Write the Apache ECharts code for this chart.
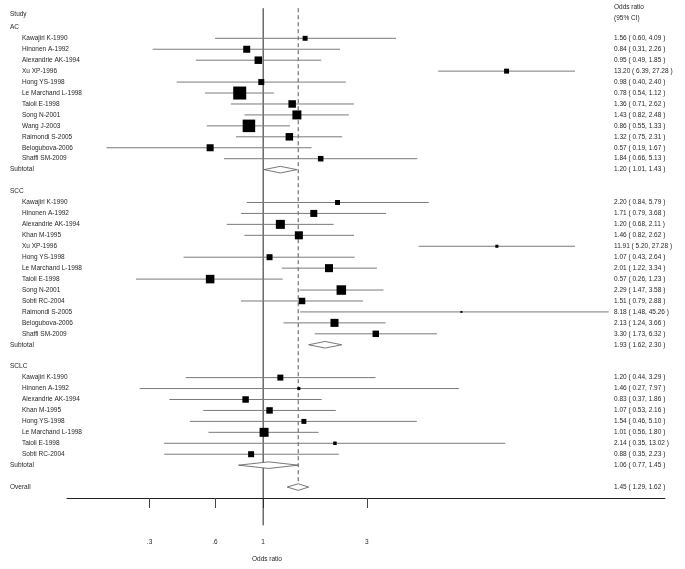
<!DOCTYPE html>
<html>
<head>
<meta charset="utf-8">
<script src="https://cdn.jsdelivr.net/npm/echarts@6/dist/echarts.min.js"></script>
<style>
html,body{margin:0;padding:0;background:#fff;}
#chart{width:685px;height:569px;}
</style>
</head>
<body>
<div id="chart"></div>
<script>
// ---------- data ----------
const acStudies = ["Kawajiri K-1990","Hinonen A-1992","Alexandrie AK-1994","Xu XP-1996","Hong YS-1998","Le Marchand L-1998","Taioli E-1998","Song N-2001","Wang J-2003","Raimondi S-2005","Belogubova-2006","Shaffi SM-2009"];
const acOR     = [1.56, 0.84, 0.95, 13.20, 0.98, 0.78, 1.36, 1.43, 0.86, 1.32, 0.57, 1.84];
const acLow    = [0.60, 0.31, 0.49, 6.39, 0.40, 0.54, 0.71, 0.82, 0.55, 0.75, 0.19, 0.66];
const acHigh   = [4.09, 2.26, 1.85, 27.28, 2.40, 1.12, 2.62, 2.48, 1.33, 2.31, 1.67, 5.13];
const acWeight = [2.4, 4.8, 5.5, 2.4, 3.5, 16.5, 5.5, 7.9, 15.3, 5.5, 4.8, 3.0];
const acSubtotal = [1.20, 1.01, 1.43];

const sccStudies = ["Kawajiri K-1990","Hinonen A-1992","Alexandrie AK-1994","Khan M-1995","Xu XP-1996","Hong YS-1998","Le Marchand L-1998","Taioli E-1998","Song N-2001","Sobti RC-2004","Raimondi S-2005","Belogubova-2006","Shaffi SM-2009"];
const sccOR     = [2.20, 1.71, 1.20, 1.46, 11.91, 1.07, 2.01, 0.57, 2.29, 1.51, 8.18, 2.13, 3.30];
const sccLow    = [0.84, 0.79, 0.68, 0.82, 5.20, 0.43, 1.22, 0.26, 1.47, 0.79, 1.48, 1.24, 1.73];
const sccHigh   = [5.79, 3.68, 2.11, 2.62, 27.28, 2.64, 3.34, 1.23, 3.58, 2.88, 45.26, 3.66, 6.32];
const sccWeight = [2.4, 4.8, 7.9, 6.3, 0.9, 3.5, 6.3, 7.1, 8.8, 4.1, 0.4, 6.3, 4.1];
const sccSubtotal = [1.93, 1.62, 2.30];

const sclcStudies = ["Kawajiri K-1990","Hinonen A-1992","Alexandrie AK-1994","Khan M-1995","Hong YS-1998","Le Marchand L-1998","Taioli E-1998","Sobti RC-2004"];
const sclcOR     = [1.20, 1.46, 0.83, 1.07, 1.54, 1.01, 2.14, 0.88];
const sclcLow    = [0.44, 0.27, 0.37, 0.53, 0.46, 0.56, 0.35, 0.35];
const sclcHigh   = [3.29, 7.97, 1.86, 2.16, 5.10, 1.80, 13.02, 2.23];
const sclcWeight = [3.5, 0.9, 4.1, 4.1, 2.4, 7.9, 1.2, 3.5];
const sclcSubtotal = [1.06, 0.77, 1.45];

const overall = [1.45, 1.29, 1.62];

const groupNames = ["AC", "SCC", "SCLC"];
const tickValues = [0.3, 0.6, 1, 3];
const tickLabels = [".3", ".6", "1", "3"];
const xMin = 0.125, xMax = 70.8, ciDisplayMax = 39;

// ---------- row layout ----------
const groups = [
  {name: groupNames[0], studies: acStudies, or: acOR, lo: acLow, hi: acHigh, w: acWeight, sub: acSubtotal},
  {name: groupNames[1], studies: sccStudies, or: sccOR, lo: sccLow, hi: sccHigh, w: sccWeight, sub: sccSubtotal},
  {name: groupNames[2], studies: sclcStudies, or: sclcOR, lo: sclcLow, hi: sclcHigh, w: sclcWeight, sub: sclcSubtotal}
];
const rows = [];
rows.push({slot: -2.2, label: "Study", indent: false, kind: "title"});
let slot = -1;
groups.forEach(g => {
  rows.push({slot: slot, label: g.name, indent: false, kind: "title"});
  slot++;
  g.studies.forEach((s, i) => {
    rows.push({slot: slot, label: s, indent: true, kind: "study", or: g.or[i], lo: g.lo[i], hi: g.hi[i], w: g.w[i]});
    slot++;
  });
  rows.push({slot: slot, label: "Subtotal", indent: false, kind: "diamond", or: g.sub[0], lo: g.sub[1], hi: g.sub[2]});
  slot += 2;
});
rows.push({slot: slot - 0, label: "Overall", indent: false, kind: "diamond", or: overall[0], lo: overall[1], hi: overall[2]});
const overallSlot = slot;
const yMin = -2.75, yMax = 42;

function fmt(v) { return v.toFixed(2); }
function ciText(r) { return fmt(r.or) + " ( " + fmt(r.lo) + ", " + fmt(r.hi) + " )"; }

const FONT = '6.5px "Liberation Sans", Arial, sans-serif';
const TXT = '#262626';

function renderRow(params, api) {
  const r = rows[params.dataIndex];
  const y = api.coord([1, r.slot])[1];
  const ch = [];
  ch.push({type: 'text', style: {x: r.indent ? 22 : 10, y: y, text: r.label, font: FONT, fill: TXT, textAlign: 'left', textVerticalAlign: 'middle'}});
  if (r.kind === 'study') {
    const p1 = api.coord([Math.max(r.lo, xMin), r.slot]);
    const p2 = api.coord([Math.min(r.hi, ciDisplayMax), r.slot]);
    const pc = api.coord([r.or, r.slot]);
    ch.push({type: 'line', shape: {x1: p1[0], y1: y, x2: p2[0], y2: y}, style: {stroke: '#7a7a7a', lineWidth: 1}});
    const side = 3.2 * Math.sqrt(r.w);
    ch.push({type: 'rect', shape: {x: pc[0] - side / 2, y: y - side / 2, width: side, height: side}, style: {fill: '#000'}});
    ch.push({type: 'text', style: {x: 614, y: y, text: ciText(r), font: FONT, fill: TXT, textAlign: 'left', textVerticalAlign: 'middle'}});
  } else if (r.kind === 'diamond') {
    const p1 = api.coord([r.lo, r.slot]);
    const p2 = api.coord([r.hi, r.slot]);
    const pc = api.coord([r.or, r.slot]);
    const h = 3.3;
    ch.push({type: 'polygon', shape: {points: [[p1[0], y], [pc[0], y - h], [p2[0], y], [pc[0], y + h]]}, style: {fill: '#fff', stroke: '#555', lineWidth: 0.8}});
    ch.push({type: 'text', style: {x: 614, y: y, text: ciText(r), font: FONT, fill: TXT, textAlign: 'left', textVerticalAlign: 'middle'}});
  }
  return {type: 'group', children: ch};
}

const refLines = [
  {value: 1, end: 44.5, dashed: false},
  {value: overall[0], end: overallSlot - 0.3, dashed: true}
];
function renderRef(params, api) {
  const r = refLines[params.dataIndex];
  const a = api.coord([r.value, yMin]);
  const b = api.coord([r.value, r.end]);
  return {type: 'line', shape: {x1: a[0], y1: a[1], x2: b[0], y2: b[1]},
    style: {stroke: r.dashed ? '#555' : '#222', lineWidth: 1, lineDash: r.dashed ? [4, 3] : null}};
}

const chart = echarts.init(document.getElementById('chart'), null, {renderer: 'canvas'});
chart.setOption({
  animation: false,
  backgroundColor: '#fff',
  grid: {left: 67, right: 20, top: 8.2, bottom: 71},
  xAxis: {
    type: 'log', logBase: 10, min: xMin, max: xMax,
    splitLine: {show: false},
    axisLine: {show: true, onZero: false, lineStyle: {color: '#222', width: 1}},
    axisTick: {show: true, customValues: tickValues, length: 10, lineStyle: {color: '#444', width: 1}},
    axisLabel: {show: true, customValues: tickValues, margin: 41, fontSize: 6.5, color: TXT,
      fontFamily: '"Liberation Sans", Arial, sans-serif',
      formatter: v => { const i = tickValues.findIndex(t => Math.abs(t - v) < 1e-6); return i >= 0 ? tickLabels[i] : ''; }}
  },
  yAxis: {type: 'value', inverse: true, min: yMin, max: yMax, show: false},
  graphic: [
    {type: 'text', left: 614, top: 4, style: {text: 'Odds ratio', font: FONT, fill: TXT}},
    {type: 'text', left: 614, top: 15, style: {text: '(95% CI)', font: FONT, fill: TXT}},
    {type: 'text', left: 252, top: 556, style: {text: 'Odds ratio', font: FONT, fill: TXT}}
  ],
  series: [
    {type: 'custom', renderItem: renderRef, data: refLines.map(r => [r.value]), clip: false, silent: true},
    {type: 'custom', renderItem: renderRow, data: rows.map((r, i) => [i]), clip: false, silent: true}
  ]
});
</script>
</body>
</html>
